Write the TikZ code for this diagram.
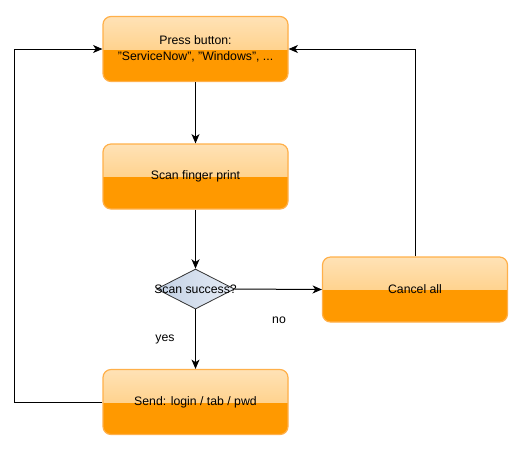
\documentclass[tikz,border=0pt]{standalone}
\usepackage{fontspec}
\setmainfont{Liberation Sans}
\usetikzlibrary{arrows.meta,shapes.geometric}
\definecolor{obase}{HTML}{FF9900}
\definecolor{oborder}{HTML}{FFB04A}
\definecolor{gtop}{HTML}{FFE2B6}
\definecolor{gmid}{HTML}{FFC468}
\definecolor{dleft}{HTML}{C3D1E5}
\definecolor{dright}{HTML}{E6ECF5}
\begin{document}
\begin{tikzpicture}[x=0.75pt,y=-0.75pt,
  txt/.style={font=\fontsize{9.2}{11.5}\selectfont, text=black},
  glossy/.style={rectangle, rounded corners=6pt, minimum width=138.75pt,
    minimum height=48.75pt, draw=oborder, line width=0.9pt, fill=obase,
    txt, align=center, inner sep=1pt,
    path picture={\shade[sharp corners, top color=gtop, bottom color=gmid]
      (path picture bounding box.north west) rectangle (path picture bounding box.east);}},
  decision/.style={diamond, minimum width=58.5pt, minimum height=30pt,
    inner sep=0pt, draw=black!80, line width=0.6pt, left color=dleft, right color=dright},
  arr/.style={draw=black, line width=0.75pt, -{Stealth[length=7pt,width=6pt,inset=2pt]}}
]
\useasboundingbox (0,0) rectangle (523,451);
\node[glossy] (press) at (195.5,49) {Press button:\\"ServiceNow", "Windows", ...};
\node[glossy] (scan) at (195.5,176.5) {Scan finger print};
\node[decision, label={[txt]center:Scan success?}] (dia) at (195.5,289) {};
\node[glossy] (cancel) at (415,289.5) {Cancel all};
\node[glossy] (send) at (195.5,402) {Send: login / tab / pwd};
\draw[arr] (press) -- (scan);
\draw[arr] (scan) -- (dia);
\draw[arr] (dia.east) -- (cancel.west);
\draw[arr] (dia) -- (send);
\draw[arr] (send.west) -- ++(-88,0) |- (press.west);
\draw[arr] (cancel.north) |- (press.east);
\node[txt] (nolbl) at (279,320) {no};
\node[txt] (yeslbl) at (165,339) {yes};
\end{tikzpicture}
\end{document}
